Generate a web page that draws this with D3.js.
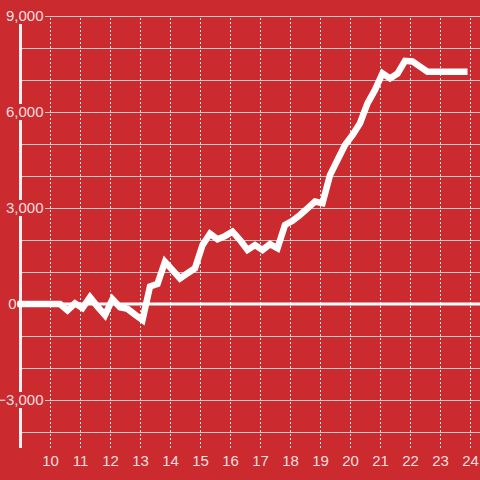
<!DOCTYPE html>
<meta charset="utf-8">
<style>
    body { margin: 0; background: #cb2a2f; }
    svg { display: block; font-family: "Liberation Sans", Arial, sans-serif; }
    .grid-x line { stroke: #e6e6e6; stroke-dasharray: 2,2; }
    .grid-y line { stroke: #c9c9c9; }
    .grid-x path, .grid-y path, .axis--x path { stroke-width: 0; }
    .lbl { fill: #fff; fill-opacity: 0.86; font-size: 15px; }
</style>
<svg width="480" height="480"></svg>
<script src="https://d3js.org/d3.v7.min.js"></script>
<script>

    // data (time of day, value)
    var times = ["8:55", "10:20", "10:35", "10:50", "11:05", "11:20", "11:35", "11:50", "12:05", "12:20",
        "12:35", "12:50", "13:05", "13:20", "13:35", "13:50", "14:05", "14:20", "14:35", "14:50",
        "15:05", "15:20", "15:35", "15:50", "16:05", "16:20", "16:35", "16:50", "17:05", "17:20",
        "17:35", "17:50", "18:05", "18:20", "18:35", "18:50", "19:05", "19:20", "19:35", "19:50",
        "20:05", "20:20", "20:35", "20:50", "21:05", "21:20", "21:35", "21:50", "22:05", "22:20",
        "22:35", "23:55"];
    var values = [0, 0, -200, 20, -130, 210, -80, -350, 150, -100,
        -150, -330, -500, 550, 630, 1320, 1060, 800, 960, 1115,
        1840, 2200, 2020, 2120, 2260, 2000, 1690, 1840, 1690, 1870,
        1740, 2470, 2600, 2780, 2990, 3200, 3150, 4030, 4500, 4970,
        5280, 5650, 6270, 6690, 7210, 7050, 7200, 7600, 7580, 7420,
        7260, 7260];
    var xTicks = d3.range(10, 25);
    var yGridTicks = d3.range(-4000, 9001, 1000).filter(function (d) { return d !== 0; });
    var yLabelTicks = [-3000, 3000, 6000, 9000];

    var bg = "#cb2a2f";
    var svg = d3.select("svg");

    var points = times.map(function (t, i) {
        var hm = t.split(":");
        return [+hm[0] + hm[1] / 60, values[i]];
    });

    var x = d3.scaleLinear().domain([9, 24]).range([20, 470]);
    var y = d3.scaleLinear().domain([-4500, 9000]).range([448, 16]);

    svg.append("rect").attr("width", 480).attr("height", 480).attr("fill", bg);

    // vertical dashed grid
    svg.append("g")
        .attr("class", "grid-x")
        .attr("transform", "translate(0,448)")
        .call(d3.axisBottom(x).tickValues(xTicks).tickSize(-432).tickFormat(""));

    // horizontal grid
    svg.append("g")
        .attr("class", "grid-y")
        .attr("transform", "translate(21,0)")
        .call(d3.axisLeft(y).tickValues(yGridTicks).tickSize(-459).tickFormat(""));

    // x labels
    var xAxis = svg.append("g")
        .attr("class", "axis--x")
        .attr("transform", "translate(0,448)")
        .call(d3.axisBottom(x).tickValues(xTicks).tickSize(0).tickPadding(7.5).tickFormat(d3.format("d")));
    xAxis.selectAll("text").attr("class", "lbl").attr("fill", null).attr("font-size", null);
    xAxis.attr("font-family", null).attr("font-size", null);

    // zero line
    svg.append("line")
        .attr("x1", 17).attr("x2", 480)
        .attr("y1", y(0)).attr("y2", y(0))
        .attr("stroke", "#fff").attr("stroke-width", 3);

    // y axis line
    svg.append("line")
        .attr("x1", 20.5).attr("x2", 20.5)
        .attr("y1", 16).attr("y2", 448)
        .attr("stroke", "#f2f2f2").attr("stroke-width", 3);

    // y labels with a background box
    var yl = svg.append("g").selectAll("g")
        .data(yLabelTicks)
        .enter().append("g")
        .attr("transform", function (d) { return "translate(0," + y(d) + ")"; });
    yl.append("rect")
        .attr("x", 0).attr("y", -8).attr("width", 45).attr("height", 16)
        .attr("fill", bg);
    yl.append("text")
        .attr("class", "lbl")
        .attr("x", 43.5).attr("dy", "0.35em")
        .attr("text-anchor", "end")
        .text(d3.format(","));

    svg.append("text")
        .attr("class", "lbl")
        .attr("x", 16.5).attr("y", y(0)).attr("dy", "0.35em")
        .attr("text-anchor", "end")
        .text("0");

    var line = d3.line()
        .x(function (d) { return x(d[0]); })
        .y(function (d) { return y(d[1]); });

    svg.append("path")
        .datum(points)
        .attr("fill", "none")
        .attr("stroke", "#fff")
        .attr("stroke-width", 6.5)
        .attr("stroke-linejoin", "miter")
        .attr("d", line);

</script>
